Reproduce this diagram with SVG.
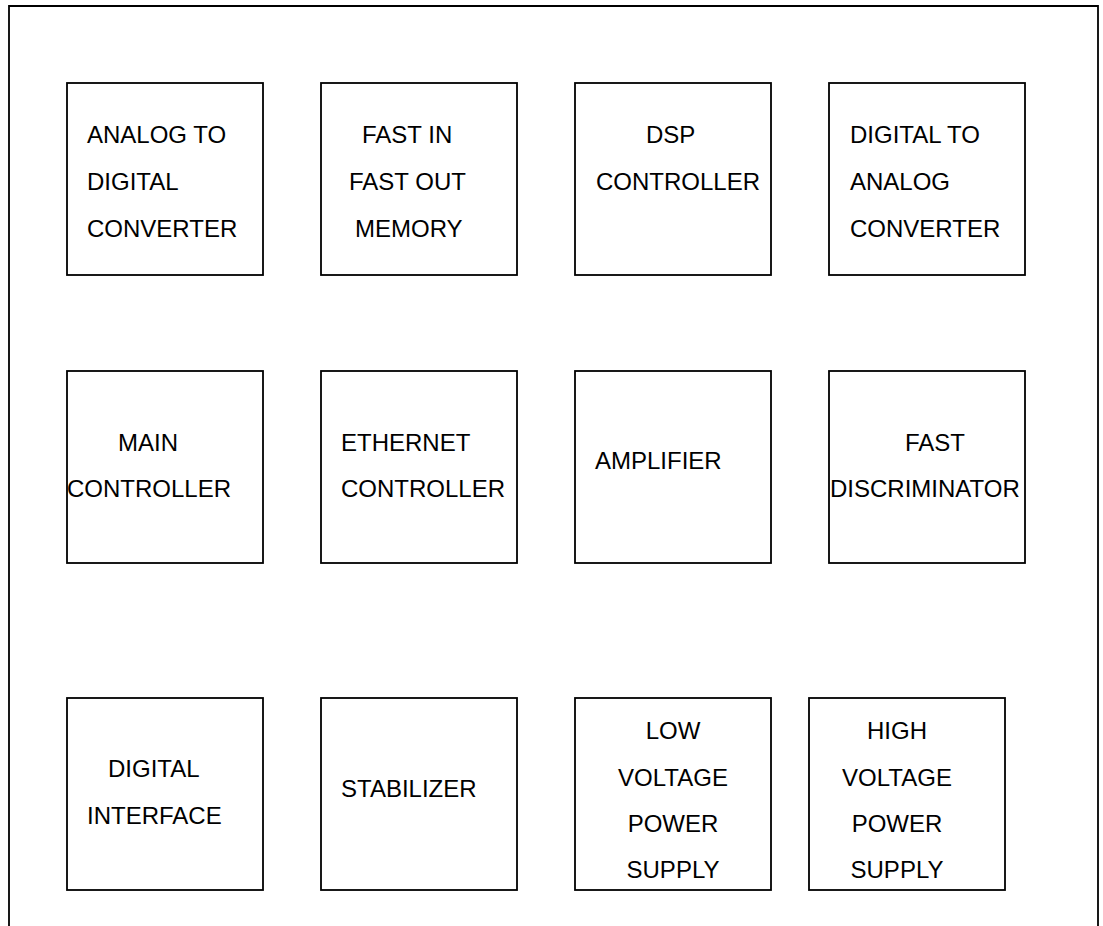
<svg xmlns="http://www.w3.org/2000/svg" width="1103" height="926" viewBox="0 0 1103 926">
<style>
.box{fill:#fff;stroke:#000;stroke-width:1.8}
.frame{fill:none;stroke:#000;stroke-width:1.8}
text{font-family:"Liberation Sans",Arial,sans-serif;font-size:24px;fill:#000}
</style>
<rect width="1103" height="926" fill="#fff"/>
<path class="frame" d="M9,926 V6 H1098 V926"/>
<g id="connectors"></g>
<g id="adc"><rect class="box" x="67" y="83" width="196" height="192"/>
<text x="87" y="143">ANALOG TO</text><text x="87" y="190">DIGITAL</text><text x="87" y="237">CONVERTER</text></g>
<g id="fifo"><rect class="box" x="321" y="83" width="196" height="192"/>
<text x="362" y="143">FAST IN</text><text x="349" y="190">FAST OUT</text><text x="355" y="237">MEMORY</text></g>
<g id="dsp"><rect class="box" x="575" y="83" width="196" height="192"/>
<text x="646" y="143">DSP</text><text x="596" y="190">CONTROLLER</text></g>
<g id="dac"><rect class="box" x="829" y="83" width="196" height="192"/>
<text x="850" y="143">DIGITAL TO</text><text x="850" y="190">ANALOG</text><text x="850" y="237">CONVERTER</text></g>
<g id="main"><rect class="box" x="67" y="371" width="196" height="192"/>
<text x="118" y="451">MAIN</text><text x="67" y="497">CONTROLLER</text></g>
<g id="ethernet"><rect class="box" x="321" y="371" width="196" height="192"/>
<text x="341" y="451">ETHERNET</text><text x="341" y="497">CONTROLLER</text></g>
<g id="amplifier"><rect class="box" x="575" y="371" width="196" height="192"/>
<text x="595" y="469">AMPLIFIER</text></g>
<g id="discriminator"><rect class="box" x="829" y="371" width="196" height="192"/>
<text x="905" y="451">FAST</text><text x="830" y="497">DISCRIMINATOR</text></g>
<g id="digital-interface"><rect class="box" x="67" y="698" width="196" height="192"/>
<text x="108" y="777">DIGITAL</text><text x="87" y="824">INTERFACE</text></g>
<g id="stabilizer"><rect class="box" x="321" y="698" width="196" height="192"/>
<text x="341" y="797">STABILIZER</text></g>
<g id="lvps"><rect class="box" x="575" y="698" width="196" height="192"/>
<g text-anchor="middle"><text x="673" y="739">LOW</text><text x="673" y="786">VOLTAGE</text><text x="673" y="832">POWER</text><text x="673" y="878">SUPPLY</text></g></g>
<g id="hvps"><rect class="box" x="809" y="698" width="196" height="192"/>
<g text-anchor="middle"><text x="897" y="739">HIGH</text><text x="897" y="786">VOLTAGE</text><text x="897" y="832">POWER</text><text x="897" y="878">SUPPLY</text></g></g>
</svg>
